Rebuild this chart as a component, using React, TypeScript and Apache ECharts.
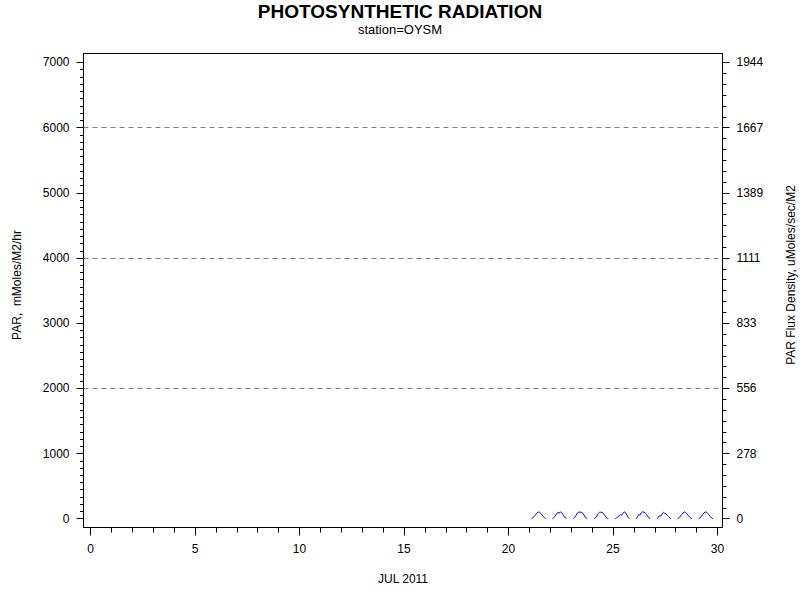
import React, { useEffect, useRef } from "react";
import * as echarts from "echarts";

// ---- data ----
const X_MAJOR = [0, 5, 10, 15, 20, 25, 30];
const X_MINOR = [1, 2, 3, 4, 6, 7, 8, 9, 11, 12, 13, 14, 16, 17, 18, 19, 21, 22, 23, 24, 26, 27, 28, 29];
const Y_LEFT_MAJOR = [0, 1000, 2000, 3000, 4000, 5000, 6000, 7000];
const Y_GRID = [2000, 4000, 6000];
const DAYS = [21, 22, 23, 24, 25, 26, 27, 28, 29];
const HOURS = [2.5, 4, 5.5, 7, 8.5, 10, 11.5, 13, 14.5, 16, 17.5, 18.7];
const PAR_D21 = [0, 12, 35, 60, 85, 102, 100, 82, 58, 32, 10, 0];
const PAR_D22 = [0, 15, 40, 68, 98, 85, 102, 95, 65, 35, 10, 0];
const PAR_D23 = [0, 18, 50, 85, 100, 102, 98, 90, 60, 28, 8, 0];
const PAR_D24 = [0, 15, 45, 78, 98, 100, 95, 80, 50, 22, 6, 0];
const PAR_D25 = [0, 10, 30, 45, 62, 55, 82, 105, 90, 55, 20, 0];
const PAR_D26 = [0, 25, 62, 55, 92, 105, 100, 90, 65, 35, 10, 0];
const PAR_D27 = [0, 20, 48, 40, 72, 98, 80, 72, 50, 30, 10, 0];
const PAR_D28 = [0, 15, 40, 65, 90, 105, 95, 75, 50, 25, 8, 0];
const PAR_D29 = [0, 12, 35, 62, 88, 104, 100, 80, 55, 30, 10, 0];
const PAR_BY_DAY = [PAR_D21, PAR_D22, PAR_D23, PAR_D24, PAR_D25, PAR_D26, PAR_D27, PAR_D28, PAR_D29];

const FONT = "'Liberation Sans', Arial, Helvetica, sans-serif";

function buildSeries() {
  const out: any[] = [];
  DAYS.forEach((d, i) => {
    const vals = PAR_BY_DAY[i];
    HOURS.forEach((h, j) => {
      out.push([d + h / 24, vals[j]]);
    });
    out.push([d + 0.9, null]);
  });
  return out;
}

export default function App() {
  const ref = useRef<HTMLDivElement>(null);
  useEffect(() => {
    if (!ref.current) return;
    const chart = echarts.init(ref.current, undefined, { renderer: "svg" });
    const X_MIN = -0.335;
    const X_MAX = 30.24;
    const Y_MIN = -135;
    const Y_MAX = 7138;
    const yLeftMinor: number[] = [];
    for (let k = 0; k < 7; k++) {
      for (let m = 1; m < 9; m++) yLeftMinor.push(k * 1000 + (m * 1000) / 9);
    }
    const yRightMinor: number[] = [];
    for (let k = 0; k < 7; k++) {
      for (let m = 1; m < 6; m++) yRightMinor.push(k * 1000 + (m * 1000) / 6);
    }
    const labelStyle = { fontSize: 12, color: "#000", fontFamily: FONT };
    const tickLine = { color: "#000", width: 1 };
    const textStyle = (text: string, size: number, bold = false) => ({
      text,
      fontSize: size,
      fontWeight: bold ? "bold" : "normal",
      fontFamily: FONT,
      fill: "#000",
      align: "center",
      verticalAlign: "middle",
      textAlign: "center",
      textVerticalAlign: "middle",
    });
    const option: any = {
      animation: false,
      backgroundColor: "#fff",
      grid: {
        left: 83.5,
        right: 77.5,
        top: 53.5,
        bottom: 72.5,
        show: true,
        borderColor: "#000",
        borderWidth: 1,
        backgroundColor: "transparent",
      },
      graphic: [
        { type: "text", x: 400, y: 11, style: textStyle("PHOTOSYNTHETIC RADIATION", 19, true) },
        { type: "text", x: 400, y: 29, style: textStyle("station=OYSM", 13) },
        { type: "text", x: 17, y: 285, rotation: Math.PI / 2, style: textStyle("PAR,  mMoles/M2/hr", 12) },
        {
          type: "text",
          x: 791,
          y: 275,
          rotation: Math.PI / 2,
          style: textStyle("PAR Flux Density, uMoles/sec/M2", 12),
        },
        { type: "text", x: 403, y: 579, style: textStyle("JUL 2011", 12) },
      ],
      xAxis: [
        {
          type: "value",
          min: X_MIN,
          max: X_MAX,
          position: "bottom",
          axisLine: { show: true, onZero: false, lineStyle: tickLine },
          axisTick: { show: true, customValues: X_MAJOR, length: 8, lineStyle: tickLine },
          axisLabel: {
            show: true,
            customValues: X_MAJOR,
            margin: 15,
            formatter: (v: number) => String(v),
            ...labelStyle,
          },
          splitLine: { show: false },
        },
        {
          type: "value",
          min: X_MIN,
          max: X_MAX,
          position: "bottom",
          axisLine: { show: false, onZero: false },
          axisTick: { show: true, customValues: X_MINOR, length: 5, lineStyle: tickLine },
          axisLabel: { show: false },
          splitLine: { show: false },
        },
      ],
      yAxis: [
        {
          type: "value",
          min: Y_MIN,
          max: Y_MAX,
          position: "left",
          axisLine: { show: true, onZero: false, lineStyle: tickLine },
          axisTick: { show: true, customValues: Y_LEFT_MAJOR, length: 7, lineStyle: tickLine },
          axisLabel: {
            show: true,
            customValues: Y_LEFT_MAJOR,
            margin: 14,
            formatter: (v: number) => String(v),
            ...labelStyle,
          },
          splitLine: { show: false },
        },
        {
          type: "value",
          min: Y_MIN,
          max: Y_MAX,
          position: "left",
          axisLine: { show: false, onZero: false },
          axisTick: { show: true, customValues: yLeftMinor, length: 3.5, lineStyle: tickLine },
          axisLabel: { show: false },
          splitLine: { show: false },
        },
        {
          type: "value",
          min: Y_MIN,
          max: Y_MAX,
          position: "right",
          axisLine: { show: true, onZero: false, lineStyle: tickLine },
          axisTick: { show: true, customValues: Y_LEFT_MAJOR, length: 7, lineStyle: tickLine },
          axisLabel: {
            show: true,
            customValues: Y_LEFT_MAJOR,
            margin: 14,
            formatter: (v: number) => String(Math.round(v / 3.6)),
            ...labelStyle,
          },
          splitLine: { show: false },
        },
        {
          type: "value",
          min: Y_MIN,
          max: Y_MAX,
          position: "right",
          axisLine: { show: false, onZero: false },
          axisTick: { show: true, customValues: yRightMinor, length: 4, lineStyle: tickLine },
          axisLabel: { show: false },
          splitLine: { show: false },
        },
      ],
      series: [
        {
          type: "line",
          xAxisIndex: 0,
          yAxisIndex: 0,
          data: buildSeries(),
          showSymbol: false,
          symbol: "none",
          connectNulls: false,
          lineStyle: { color: "#0000ff", width: 1 },
          itemStyle: { color: "#0000ff" },
          silent: true,
          markLine: {
            silent: true,
            symbol: "none",
            label: { show: false },
            lineStyle: { color: "#808080", type: [5, 4], width: 1 },
            data: Y_GRID.map((v) => ({ yAxis: v })),
          },
        },
      ],
    };
    chart.setOption(option);
    return () => chart.dispose();
  }, []);
  return (
    <div
      ref={ref}
      style={{ position: "fixed", left: 0, top: 0, width: 800, height: 600, background: "#fff" }}
    />
  );
}
